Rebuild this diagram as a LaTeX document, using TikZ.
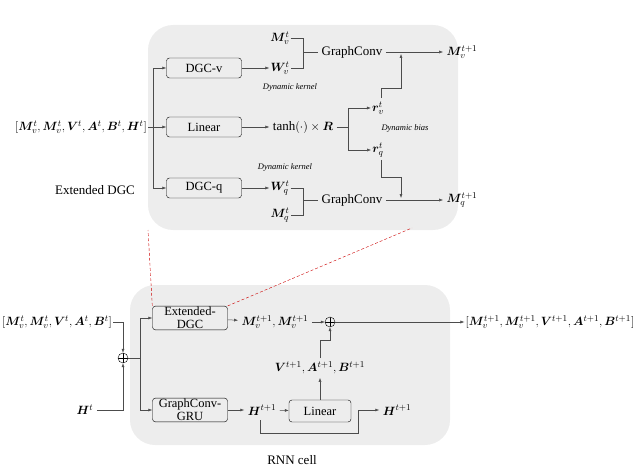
\documentclass[tikz,border=0pt]{standalone}
\usepackage{bm}
\usepackage{fontspec}
\setmainfont{Liberation Serif}
\usetikzlibrary{arrows.meta}
\begin{document}
\begin{tikzpicture}[x=1pt,y=-1pt,font=\fontsize{13}{14}\selectfont,
 blk/.style={draw,rounded corners=3pt,minimum width=75pt,minimum height=20pt,align=center,inner sep=1pt,font=\fontsize{12.5}{13}\selectfont},
 ln/.style={draw=black!70,line width=0.5pt},
 ar/.style={ln,-{Latex[length=4pt,width=3pt]}},
 it/.style={font=\fontsize{8.5}{9}\selectfont\itshape},
 op/.style={circle,draw,inner sep=0pt,minimum size=10pt,path picture={\draw (path picture bounding box.north)--(path picture bounding box.south) (path picture bounding box.west)--(path picture bounding box.east);}}]
\useasboundingbox (0,0) rectangle (640,468);
\fill[black!7,rounded corners=25pt] (148,25) rectangle (458,230);
\fill[black!7,rounded corners=25pt] (130,285) rectangle (450,445);
% top
\node[inner sep=1pt] (in) at (81,127) {$[\bm M_v^t,\bm M_v^t,\bm V^t,\bm A^t,\bm B^t,\bm H^t]$};
\node[blk] (dv) at (204,68) {DGC-v};
\node[blk] (li) at (204,127) {Linear};
\node[blk] (dq) at (204,188) {DGC-q};
\coordinate (s) at (153,127);
\draw[ar] (in) -- (li);
\draw[ar] (s) |- (dv);
\draw[ar] (s) |- (dq);
\node[inner sep=1pt] (mv) at (280,38) {$\bm M_v^t$};
\node[inner sep=1pt] (wv) at (280,68) {$\bm W_v^t$};
\node (gv) at (352,52) {GraphConv};
\draw[ar] (dv) -- (wv);
\draw[ln] (mv.east) -- (303,38) -- (303,68) -- (wv.east) (303,52) -- (gv.west);
\node[it] (k1) at (290,87) {Dynamic kernel};
\node (th) at (303,127) {tanh$(\cdot)\times\bm R$};
\draw[ar] (li) -- (th);
\node[inner sep=1pt] (rv) at (378,108) {$\bm r_v^t$};
\node[inner sep=1pt] (rq) at (378,150) {$\bm r_q^t$};
\node[it] (db) at (405,128) {Dynamic bias};
\draw[ar] (th.east) -- (348,127) |- (rv.west);
\draw[ar] (348,127) |- (rq.west);
\node[it] (k2) at (285,167) {Dynamic kernel};
\node[inner sep=1pt] (wq) at (280,188) {$\bm W_q^t$};
\node[inner sep=1pt] (mq) at (280,215) {$\bm M_q^t$};
\node (gq) at (352,200) {GraphConv};
\draw[ar] (dq) -- (wq);
\draw[ln] (wq.east) -- (303,188) -- (303,215) -- (mq.east) (303,200) -- (gq.west);
\node (mv1) at (462,52) {$\bm M_v^{t+1}$};
\node (mq1) at (462,200) {$\bm M_q^{t+1}$};
\draw[ar] (gv) -- (mv1);
\draw[ar] (gq) -- (mq1);
\draw[ar] (381,98) -- (381,88) -- (401,88) -- (401,54);
\draw[ar] (381,160) -- (381,177) -- (401,177) -- (401,198);
\node (ed) at (95,190) {Extended DGC};
% bottom
\node[blk] (ex) at (190,318) {Extended-\\DGC};
\node[blk] (gr) at (190,410) {GraphConv-\\GRU};
\node[inner sep=1pt,anchor=west] (in2) at (1,322) {$[\bm M_v^t,\bm M_v^t,\bm V^t,\bm A^t,\bm B^t]$};
\node (ht) at (85,410) {$\bm H^t$};
\node[op] (o1) at (123,358) {};
\draw[ar] (in2.east) -- (123,322) -- (o1.north);
\draw[ar] (ht.east) -- (123,410) -- (o1.south);
\draw[ln] (o1.east) -- (140,358);
\draw[ar] (140,358) |- (ex.west);
\draw[ar] (140,358) |- (gr.west);
\node (mm) at (275,322) {$\bm M_v^{t+1},\bm M_v^{t+1}$};
\draw[ar] (ex) -- (mm);
\node[op] (o2) at (330,322) {};
\draw[ar] (mm) -- (o2);
\node[inner sep=1pt] (out) at (550,322) {$[\bm M_v^{t+1},\bm M_v^{t+1},\bm V^{t+1},\bm A^{t+1},\bm B^{t+1}]$};
\draw[ar] (o2) -- (out);
\node (vab) at (320,368) {$\bm V^{t+1},\bm A^{t+1},\bm B^{t+1}$};
\node[blk,minimum width=62pt,minimum height=22pt] (l2) at (320,411) {Linear};
\draw[ar] (l2) -- (vab);
\draw[ar] (vab.north) -- (320,340) -- (330,340) -- (o2.south);
\node (h1) at (262,410) {$\bm H^{t+1}$};
\draw[ar] (gr) -- (h1);
\draw[ar] (h1) -- (l2);
\node (h2) at (397,410) {$\bm H^{t+1}$};
\draw[ar] (260,420) -- (260,433) -- (358,433) -- (358,410) -- (h2.west);
\node (rnn) at (292,460) {RNN cell};
\draw[red!80!black,densely dashed] (ex.north west) -- (148,230);
\draw[red!80!black,densely dashed] (ex.north east) -- (412,228);
\end{tikzpicture}
\end{document}
